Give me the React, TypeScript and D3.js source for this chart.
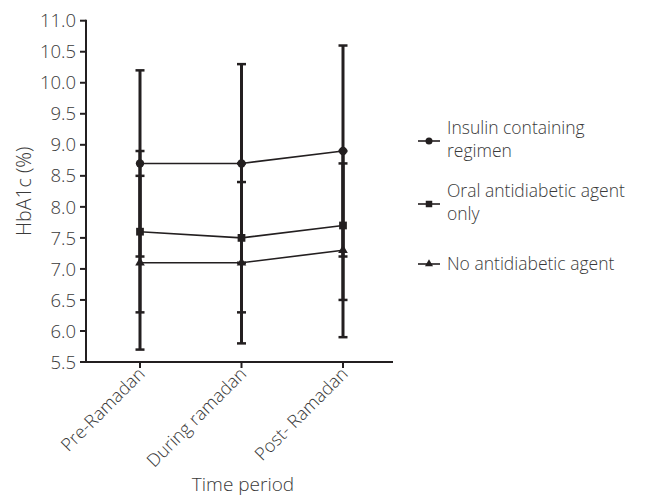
import React, { useRef, useEffect } from "react"
import * as d3 from "d3"

const periods = ["Pre-Ramadan", "During ramadan", "Post- Ramadan"]
const seriesNames = ["Insulin containing regimen", "Oral antidiabetic agent only", "No antidiabetic agent"]
const insulinMean = [8.7, 8.7, 8.9]
const insulinSd = [1.5, 1.6, 1.7]
const oralMean = [7.6, 7.5, 7.7]
const oralSd = [1.3, 1.2, 1.2]
const noneMean = [7.1, 7.1, 7.3]
const noneSd = [1.4, 1.3, 1.4]
const yTicks = [5.5, 6.0, 6.5, 7.0, 7.5, 8.0, 8.5, 9.0, 9.5, 10.0, 10.5, 11.0]

const ink = "#231f20"
const textInk = "#3a3a3a"
const font = "'Open Sans', sans-serif"

export default function App() {
  const ref = useRef<SVGSVGElement>(null)

  useEffect(() => {
    const svg = d3.select(ref.current)
    svg.selectAll("*").remove()

    const left = 86, right = 393, top = 20.7, bottom = 362
    const y = d3.scaleLinear().domain([5.5, 11]).range([bottom, top])
    const x = d3.scalePoint<string>().domain(periods).range([140, 343])

    const series = [
      { name: seriesNames[0], mean: insulinMean, sd: insulinSd, symbol: d3.symbolCircle, size: 55 },
      { name: seriesNames[1], mean: oralMean, sd: oralSd, symbol: d3.symbolSquare, size: 60 },
      { name: seriesNames[2], mean: noneMean, sd: noneSd, symbol: d3.symbolTriangle, size: 40 },
    ]

    const txt = (sel: any, size: number) =>
      sel.attr("font-family", font).attr("font-size", size)
        .attr("font-weight", 300).attr("fill", textInk)

    // axes
    const g = svg.append("g")
    g.append("line")
      .attr("x1", left).attr("x2", left).attr("y1", top - 1).attr("y2", bottom + 1)
      .attr("stroke", ink).attr("stroke-width", 2)
    g.append("line")
      .attr("x1", left - 1).attr("x2", right).attr("y1", bottom).attr("y2", bottom)
      .attr("stroke", ink).attr("stroke-width", 2)

    g.selectAll(".ytick")
      .data(yTicks)
      .join("line")
      .attr("x1", left - 6).attr("x2", left)
      .attr("y1", d => y(d)).attr("y2", d => y(d))
      .attr("stroke", ink).attr("stroke-width", 2)
    txt(g.selectAll(".ylab")
      .data(yTicks)
      .join("text")
      .attr("x", left - 10).attr("y", d => y(d))
      .attr("dy", "0.36em")
      .attr("text-anchor", "end"), 18.5)
      .text((d: number) => d.toFixed(1))

    g.selectAll(".xtick")
      .data(periods)
      .join("line")
      .attr("x1", d => x(d)!).attr("x2", d => x(d)!)
      .attr("y1", bottom).attr("y2", bottom + 6)
      .attr("stroke", ink).attr("stroke-width", 2)
    txt(g.selectAll(".xlab")
      .data(periods)
      .join("text")
      .attr("transform", d => `translate(${x(d)! + 6},${bottom + 13}) rotate(-45)`)
      .attr("text-anchor", "end"), 18)
      .text((d: string) => d)

    txt(svg.append("text")
      .attr("transform", `translate(31,${(top + bottom) / 2}) rotate(-90)`)
      .attr("text-anchor", "middle"), 19.5)
      .text("HbA1c (%)")
    txt(svg.append("text")
      .attr("x", 243).attr("y", 491)
      .attr("text-anchor", "middle"), 19)
      .text("Time period")

    // error bars
    series.forEach(s => {
      const eb = svg.append("g")
      periods.forEach((p, i) => {
        const lo = s.mean[i] - s.sd[i], hi = s.mean[i] + s.sd[i]
        eb.append("line")
          .attr("x1", x(p)!).attr("x2", x(p)!)
          .attr("y1", y(hi)).attr("y2", y(lo))
          .attr("stroke", ink).attr("stroke-width", 3)
        ;[lo, hi].forEach(v => {
          eb.append("line")
            .attr("x1", x(p)! - 4.5).attr("x2", x(p)! + 4.5)
            .attr("y1", y(v)).attr("y2", y(v))
            .attr("stroke", ink).attr("stroke-width", 2.5)
        })
      })
    })

    // lines and markers
    const line = d3.line<number>().x((d, i) => x(periods[i])!).y(d => y(d))
    series.forEach(s => {
      svg.append("path")
        .attr("d", line(s.mean)!)
        .attr("fill", "none").attr("stroke", ink).attr("stroke-width", 1.6)
      svg.selectAll(null)
        .data(s.mean)
        .join("path")
        .attr("transform", (d, i) => `translate(${x(periods[i])},${y(d)})`)
        .attr("d", d3.symbol(s.symbol, s.size)()!)
        .attr("fill", ink)
    })

    // legend
    const legendRows = [
      { lines: ["Insulin containing", "regimen"], ty: 134, my: 141 },
      { lines: ["Oral antidiabetic agent", "only"], ty: 197, my: 204 },
      { lines: ["No antidiabetic agent"], ty: 270, my: 264 },
    ]
    legendRows.forEach((r, i) => {
      const s = series[i]
      svg.append("line")
        .attr("x1", 418).attr("x2", 440).attr("y1", r.my).attr("y2", r.my)
        .attr("stroke", ink).attr("stroke-width", 1.6)
      svg.append("path")
        .attr("transform", `translate(429,${r.my})`)
        .attr("d", d3.symbol(s.symbol, s.size * 0.7)()!)
        .attr("fill", ink)
      const t = txt(svg.append("text")
        .attr("x", 447).attr("y", r.ty), 17.5)
      r.lines.forEach((ln, k) => {
        t.append("tspan").attr("x", 447).attr("dy", k === 0 ? 0 : 22.5).text(ln)
      })
    })
  }, [])

  return (
    <svg
      ref={ref}
      width={656}
      height={498}
      style={{ position: "absolute", left: 0, top: 0, background: "#fff" }}
    ></svg>
  )
}
